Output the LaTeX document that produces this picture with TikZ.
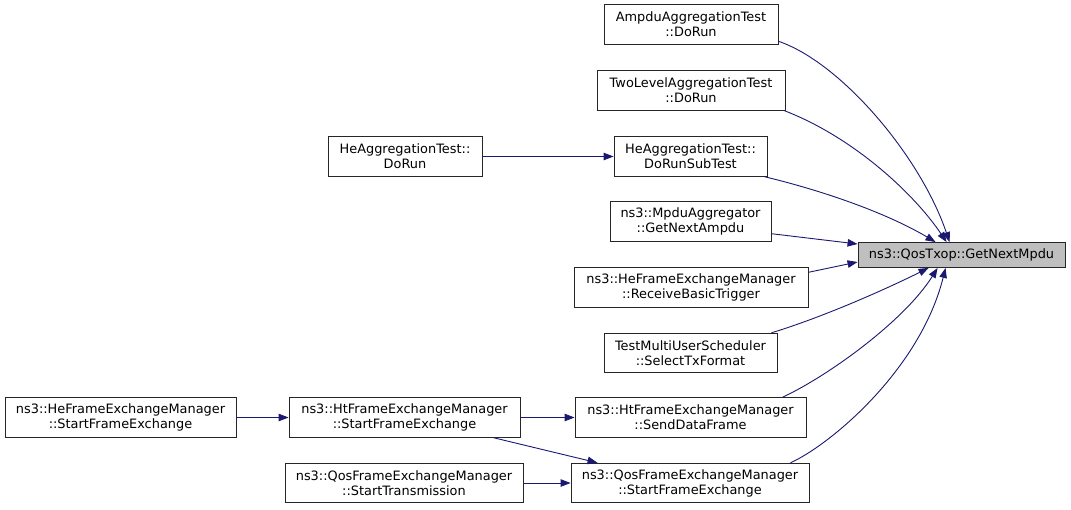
\documentclass[tikz,border=0pt]{standalone}
\usepackage{fontspec}
\setmainfont{DejaVu Sans}
\usetikzlibrary{arrows.meta,calc}
\definecolor{edgecol}{HTML}{191970}
\definecolor{rootfill}{HTML}{BFBFBF}
\tikzset{
  fn/.style={draw=black!85, line width=0.9pt, fill=white, align=center, inner sep=0pt,
    font=\fontsize{12.9}{15}\selectfont, minimum height=39.5pt},
  rootfn/.style={fn, fill=rootfill, minimum height=25pt},
  call/.style={draw=edgecol, line width=0.9pt, -{Triangle[length=10pt,width=7.5pt]}}
}
\begin{document}
\begin{tikzpicture}[x=1pt,y=-1pt]
\useasboundingbox (0,0) rectangle (1071,509);
\node[rootfn, minimum width=207pt] (root) at (961.5,255) {ns3::QosTxop::GetNextMpdu};
\node[fn, minimum width=174pt] (ampdu) at (691,24.5) {AmpduAggregationTest\\::DoRun};
\node[fn, minimum width=188pt] (two) at (691,90.5) {TwoLevelAggregationTest\\::DoRun};
\node[fn, minimum width=153pt] (sub) at (690.5,156.5) {HeAggregationTest::\\DoRunSubTest};
\node[fn, minimum width=154pt] (herun) at (405,156.5) {HeAggregationTest::\\DoRun};
\node[fn, minimum width=161pt] (mpdu) at (690.5,221.5) {ns3::MpduAggregator\\::GetNextAmpdu};
\node[fn, minimum width=234pt] (rbt) at (691,287.5) {ns3::HeFrameExchangeManager\\::ReceiveBasicTrigger};
\node[fn, minimum width=173pt] (sel) at (690.5,353) {TestMultiUserScheduler\\::SelectTxFormat};
\node[fn, minimum width=231pt] (sdf) at (690.5,417.5) {ns3::HtFrameExchangeManager\\::SendDataFrame};
\node[fn, minimum width=238pt] (qfe) at (690,483) {ns3::QosFrameExchangeManager\\::StartFrameExchange};
\node[fn, minimum width=231pt] (hfe) at (404.5,417.5) {ns3::HtFrameExchangeManager\\::StartFrameExchange};
\node[fn, minimum width=238pt] (qst) at (404,483) {ns3::QosFrameExchangeManager\\::StartTransmission};
\node[fn, minimum width=231pt] (hefe) at (120.5,417.5) {ns3::HeFrameExchangeManager\\::StartFrameExchange};

\draw[call] ($(ampdu.north east)+(0,37)$) .. controls (840,62) and (920,155) .. ($(root.north west)+(92,0)$);
\draw[call] ($(two.south east)+(-1,0)$) .. controls (855,138) and (915,195) .. ($(root.north west)+(89,0)$);
\draw[call] ($(sub.south east)+(-3,0)$) .. controls (820,190) and (885,212) .. ($(root.north west)+(78,0)$);
\draw[call] ($(mpdu.south east)+(0,-8)$) -- ($(root.west)+(0,-11)$);
\draw[call] ($(rbt.north east)+(0,5)$) -- ($(root.west)+(0,7)$);
\draw[call] ($(sel.north east)+(-6,0)$) .. controls (820,318) and (880,292) .. ($(root.south west)+(71,0)$);
\draw[call] ($(sdf.north east)+(-24,0)$) .. controls (830,375) and (905,320) .. ($(root.south west)+(80,0)$);
\draw[call] ($(qfe.north east)+(-19,0)$) .. controls (830,445) and (920,370) .. ($(root.south west)+(88,0)$);
\draw[call] (herun) -- (sub);
\draw[call] (hefe) -- (hfe);
\draw[call] (hfe) -- (sdf);
\draw[call] ($(hfe.south east)+(-27,0)$) -- ($(qfe.north west)+(27,0)$);
\draw[call] (qst) -- (qfe);
\end{tikzpicture}
\end{document}
